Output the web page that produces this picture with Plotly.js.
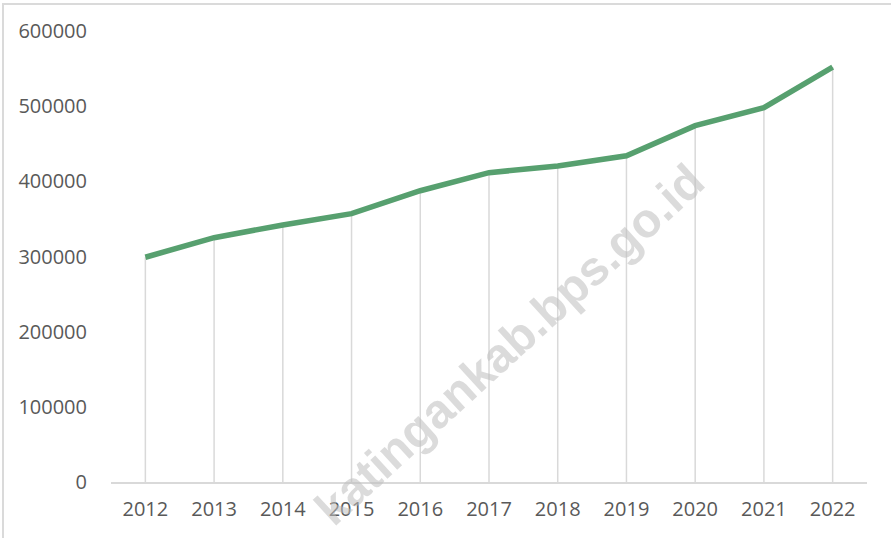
<!DOCTYPE html>
<html>
<head>
<meta charset="utf-8">
<script src="https://cdn.plot.ly/plotly-3.0.1.min.js"></script>
<style>
  html, body { margin: 0; padding: 0; background: #ffffff; }
  #wrap { position: relative; width: 891px; height: 538px; overflow: hidden; }
  #chart { width: 891px; height: 538px; }
  #frame { position: absolute; left: 2px; top: 3px; width: 900px; height: 600px;
           border-top: 2px solid #dadada; border-left: 2px solid #dadada; pointer-events: none; }
</style>
</head>
<body>
<div id="wrap">
  <div id="chart"></div>
  <div id="frame"></div>
</div>
<script>
// Data
const years = ["2012", "2013", "2014", "2015", "2016", "2017", "2018", "2019", "2020", "2021", "2022"];
const values = [299000, 325000, 342000, 357000, 387500, 411500, 420500, 434000, 474000, 498000, 552000];
const yTicks = [0, 100000, 200000, 300000, 400000, 500000, 600000];
const watermarkText = "katingankab.bps.go.id";

// Drop lines from the axis to each point, built from the data
const dropX = [], dropY = [];
years.forEach((yr, i) => { dropX.push(yr, yr, null); dropY.push(0, values[i], null); });

const font = { family: "Open Sans, Noto Sans, sans-serif", size: 20, color: "#595959" };

const traces = [
  { x: dropX, y: dropY, type: "scatter", mode: "lines",
    line: { color: "#d9d9d9", width: 1.5 }, hoverinfo: "skip", showlegend: false, connectgaps: false },
  { x: years, y: values, type: "scatter", mode: "lines",
    line: { color: "#57a06f", width: 5.5 }, showlegend: false }
];

const layout = {
  width: 891, height: 538,
  margin: { l: 111, r: 24, t: 31, b: 56 },
  paper_bgcolor: "#ffffff", plot_bgcolor: "#ffffff",
  font: font,
  xaxis: { type: "category", range: [-0.5, 10.5], showgrid: false, zeroline: false,
           showline: true, linecolor: "#d9d9d9", linewidth: 1.5,
           ticks: "outside", ticklen: 8, tickcolor: "rgba(0,0,0,0)", tickfont: font },
  yaxis: { range: [0, 600000], tickvals: yTicks, ticktext: yTicks.map(String),
           showgrid: false, zeroline: false, showline: false,
           ticks: "outside", ticklen: 19, tickcolor: "rgba(0,0,0,0)", tickfont: font },
  annotations: [{
    text: watermarkText, xref: "paper", yref: "paper", x: 0.527, y: 0.305,
    xanchor: "center", yanchor: "middle", showarrow: false, textangle: -42.5,
    font: { family: "Liberation Sans, Arial, sans-serif", size: 48, color: "rgba(190,190,190,0.55)", weight: "bold" }
  }]
};

Plotly.newPlot("chart", traces, layout, { staticPlot: true, displayModeBar: false });
</script>
</body>
</html>
